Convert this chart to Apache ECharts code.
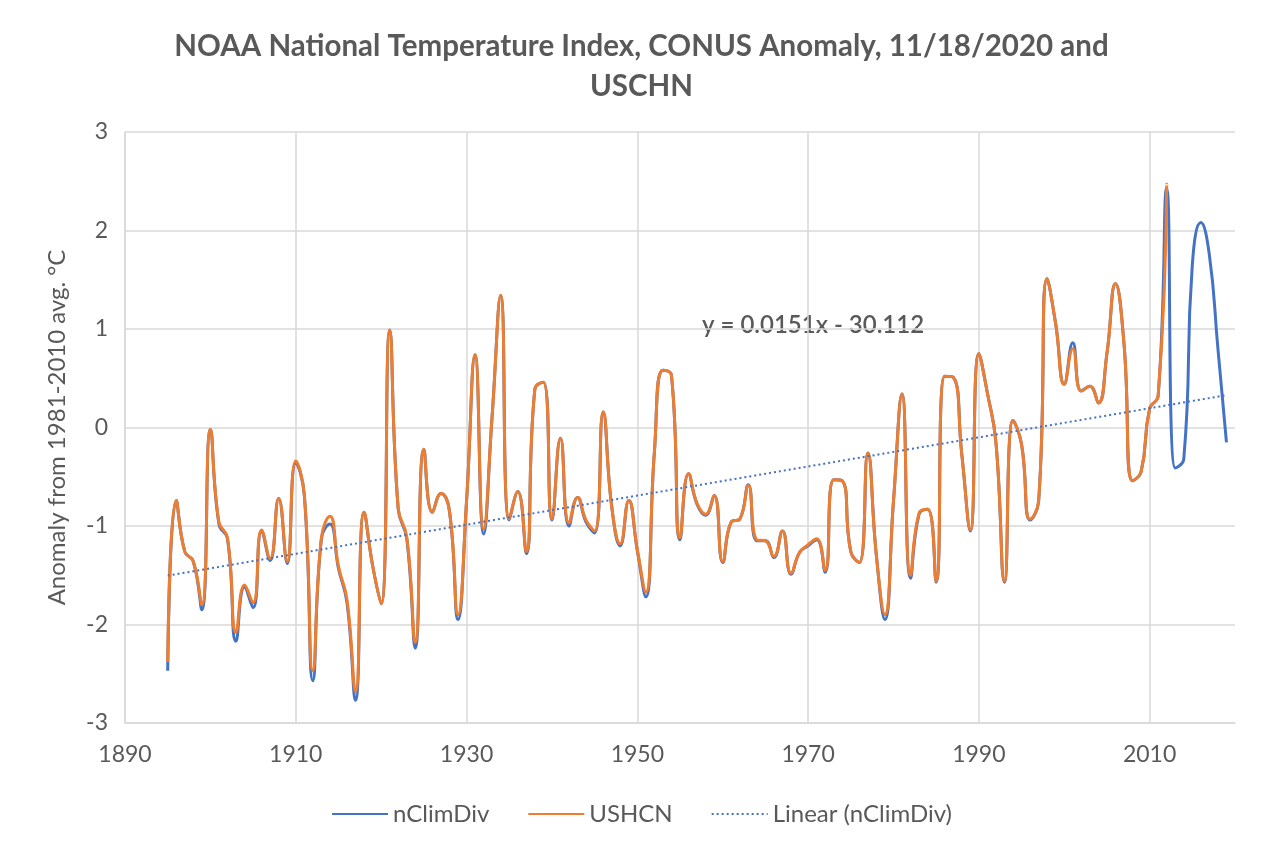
<!DOCTYPE html>
<html>
<head>
    <meta charset="utf-8">
    <title>NOAA National Temperature Index</title>
    <script src="https://cdn.jsdelivr.net/npm/echarts@6/dist/echarts.min.js"></script>
    <style>
        html, body { margin: 0; padding: 0; background: #fff; }
        #main { width: 1283px; height: 845px; }
    </style>
</head>
<body>
<div id="main"></div>
<script type="text/javascript">
    // years shown on the chart
    var years = [
        1895, 1896, 1897, 1898, 1899, 1900, 1901, 1902, 1903, 1904, 1905, 1906, 1907, 1908, 1909,
        1910, 1911, 1912, 1913, 1914, 1915, 1916, 1917, 1918, 1919, 1920, 1921, 1922, 1923, 1924,
        1925, 1926, 1927, 1928, 1929, 1930, 1931, 1932, 1933, 1934, 1935, 1936, 1937, 1938, 1939,
        1940, 1941, 1942, 1943, 1944, 1945, 1946, 1947, 1948, 1949, 1950, 1951, 1952, 1953, 1954,
        1955, 1956, 1957, 1958, 1959, 1960, 1961, 1962, 1963, 1964, 1965, 1966, 1967, 1968, 1969,
        1970, 1971, 1972, 1973, 1974, 1975, 1976, 1977, 1978, 1979, 1980, 1981, 1982, 1983, 1984,
        1985, 1986, 1987, 1988, 1989, 1990, 1991, 1992, 1993, 1994, 1995, 1996, 1997, 1998, 1999,
        2000, 2001, 2002, 2003, 2004, 2005, 2006, 2007, 2008, 2009, 2010, 2011, 2012, 2013, 2014,
        2015, 2016, 2017, 2018, 2019
    ];

    // nClimDiv anomaly, 1895-2019
    var nClimDiv = [
        -2.47, -0.74, -1.26, -1.36, -1.85, -0.02, -0.98, -1.13, -2.17, -1.62, -1.83, -1.05, -1.35, -0.72, -1.38,
        -0.36, -0.69, -2.57, -1.13, -0.98, -1.43, -1.78, -2.77, -0.86, -1.40, -1.79, 0.99, -0.83, -1.13, -2.24,
        -0.22, -0.86, -0.67, -0.85, -1.95, -0.75, 0.73, -1.08, 0.12, 1.34, -0.94, -0.65, -1.28, 0.39, 0.46,
        -0.94, -0.11, -1.00, -0.71, -0.96, -1.07, 0.15, -0.80, -1.20, -0.74, -1.25, -1.72, -0.25, 0.58, 0.53,
        -1.14, -0.47, -0.78, -0.89, -0.69, -1.37, -0.96, -0.93, -0.58, -1.15, -1.15, -1.32, -1.05, -1.49, -1.27,
        -1.20, -1.14, -1.47, -0.53, -0.54, -1.26, -1.37, -0.26, -1.30, -1.95, -0.75, 0.34, -1.53, -0.88, -0.83,
        -1.57, 0.52, 0.51, -0.27, -1.05, 0.75, 0.35, -0.15, -1.57, 0.07, -0.17, -0.94, -0.75, 1.51, 1.05,
        0.44, 0.86, 0.37, 0.42, 0.25, 0.75, 1.46, 0.85, -0.54, -0.45, 0.19, 0.32, 2.43, -0.41, -0.32,
        1.65, 2.08, 1.75, 0.80, -0.15
    ];

    // USHCN anomaly, 1895-2012
    var ushcn = [
        -2.38, -0.74, -1.26, -1.36, -1.80, -0.02, -0.96, -1.12, -2.08, -1.60, -1.78, -1.04, -1.33, -0.72, -1.36,
        -0.34, -0.68, -2.47, -1.12, -0.90, -1.41, -1.75, -2.68, -0.86, -1.40, -1.79, 0.99, -0.82, -1.11, -2.18,
        -0.22, -0.86, -0.67, -0.85, -1.90, -0.75, 0.74, -1.03, 0.12, 1.34, -0.93, -0.65, -1.26, 0.39, 0.46,
        -0.93, -0.11, -0.97, -0.71, -0.94, -1.05, 0.16, -0.80, -1.18, -0.74, -1.24, -1.67, -0.25, 0.58, 0.53,
        -1.12, -0.47, -0.77, -0.88, -0.69, -1.36, -0.96, -0.93, -0.59, -1.14, -1.15, -1.31, -1.05, -1.48, -1.27,
        -1.19, -1.13, -1.45, -0.53, -0.54, -1.26, -1.37, -0.26, -1.30, -1.90, -0.75, 0.34, -1.50, -0.87, -0.83,
        -1.56, 0.52, 0.51, -0.27, -1.04, 0.75, 0.35, -0.15, -1.56, 0.07, -0.17, -0.93, -0.75, 1.51, 1.05,
        0.44, 0.80, 0.37, 0.42, 0.25, 0.75, 1.46, 0.85, -0.54, -0.45, 0.19, 0.32, 2.47
    ];

    var xTicks = [1890, 1910, 1930, 1950, 1970, 1990, 2010];
    var yTicks = [-3, -2, -1, 0, 1, 2, 3];

    // least squares trend of nClimDiv (what Excel's linear trendline does)
    var n = nClimDiv.length, sx = 0, sy = 0, sxx = 0, sxy = 0;
    for (var i = 0; i < n; i++) {
        sx += years[i]; sy += nClimDiv[i];
        sxx += years[i] * years[i]; sxy += years[i] * nClimDiv[i];
    }
    var slope = (n * sxy - sx * sy) / (n * sxx - sx * sx);
    var icpt = (sy - slope * sx) / n;
    var trend = [
        [years[0], slope * years[0] + icpt],
        [years[n - 1], slope * years[n - 1] + icpt]
    ];

    var pairs = function (vals) {
        return vals.map(function (v, k) { return [years[k], v]; });
    };

    var font = 'Lato, "Open Sans", sans-serif';
    var gray = '#595959';
    var gridColor = '#d9d9d9';

    var myChart = echarts.init(document.getElementById('main'));
    var option = {
        animation: false,
        textStyle: { fontFamily: font },
        title: {
            text: 'NOAA National Temperature Index, CONUS Anomaly, 11/18/2020 and\nUSCHN',
            left: 'center',
            top: 21,
            textStyle: { fontSize: 29.5, fontWeight: 'bold', color: gray, lineHeight: 40, fontFamily: font }
        },
        legend: {
            bottom: 14,
            left: 'center',
            itemWidth: 56,
            itemHeight: 14,
            itemGap: 38,
            itemStyle: { opacity: 0 },
            textStyle: { fontSize: 24, color: gray, fontFamily: font },
            data: ['nClimDiv', 'USHCN', 'Linear (nClimDiv)']
        },
        grid: { left: 125, right: 48, top: 132, bottom: 122 },
        xAxis: {
            type: 'value',
            min: 1890,
            max: 2020,
            interval: 20,
            axisLine: { show: true, onZero: false, lineStyle: { color: gridColor, width: 1.5 } },
            axisTick: { show: false },
            splitLine: { show: true, showMaxLine: false, lineStyle: { color: gridColor, width: 1.5 } },
            axisLabel: {
                fontSize: 23, color: gray, margin: 20, showMaxLabel: false,
                formatter: function (v) { return xTicks.indexOf(v) >= 0 ? String(v) : ''; }
            }
        },
        yAxis: {
            type: 'value',
            min: yTicks[0],
            max: yTicks[yTicks.length - 1],
            interval: 1,
            name: 'Anomaly from 1981-2010 avg. °C',
            nameLocation: 'middle',
            nameGap: 56,
            nameTextStyle: { fontSize: 24, color: gray, fontFamily: font },
            axisLine: { show: true, lineStyle: { color: gridColor, width: 1.5 } },
            axisTick: { show: false },
            splitLine: { lineStyle: { color: gridColor, width: 1.5 } },
            axisLabel: { fontSize: 23, color: gray, margin: 17 }
        },
        graphic: [{
            type: 'text',
            left: 702,
            top: 313,
            style: { text: 'y = 0.0151x - 30.112', fontSize: 24, fontWeight: 600, fill: gray, fontFamily: font }
        }],
        series: [{
            name: 'nClimDiv',
            type: 'line',
            smooth: 0.5,
            symbol: 'none',
            lineStyle: { color: '#4472C4', width: 3 },
            itemStyle: { color: '#4472C4' },
            data: pairs(nClimDiv)
        }, {
            name: 'USHCN',
            type: 'line',
            smooth: 0.5,
            symbol: 'none',
            lineStyle: { color: '#ED7D31', width: 3 },
            itemStyle: { color: '#ED7D31' },
            data: pairs(ushcn)
        }, {
            name: 'Linear (nClimDiv)',
            type: 'line',
            symbol: 'none',
            lineStyle: { color: '#4472C4', width: 2, type: [2, 3] },
            itemStyle: { color: '#4472C4' },
            data: trend
        }]
    };
    myChart.setOption(option);
</script>
</body>
</html>
